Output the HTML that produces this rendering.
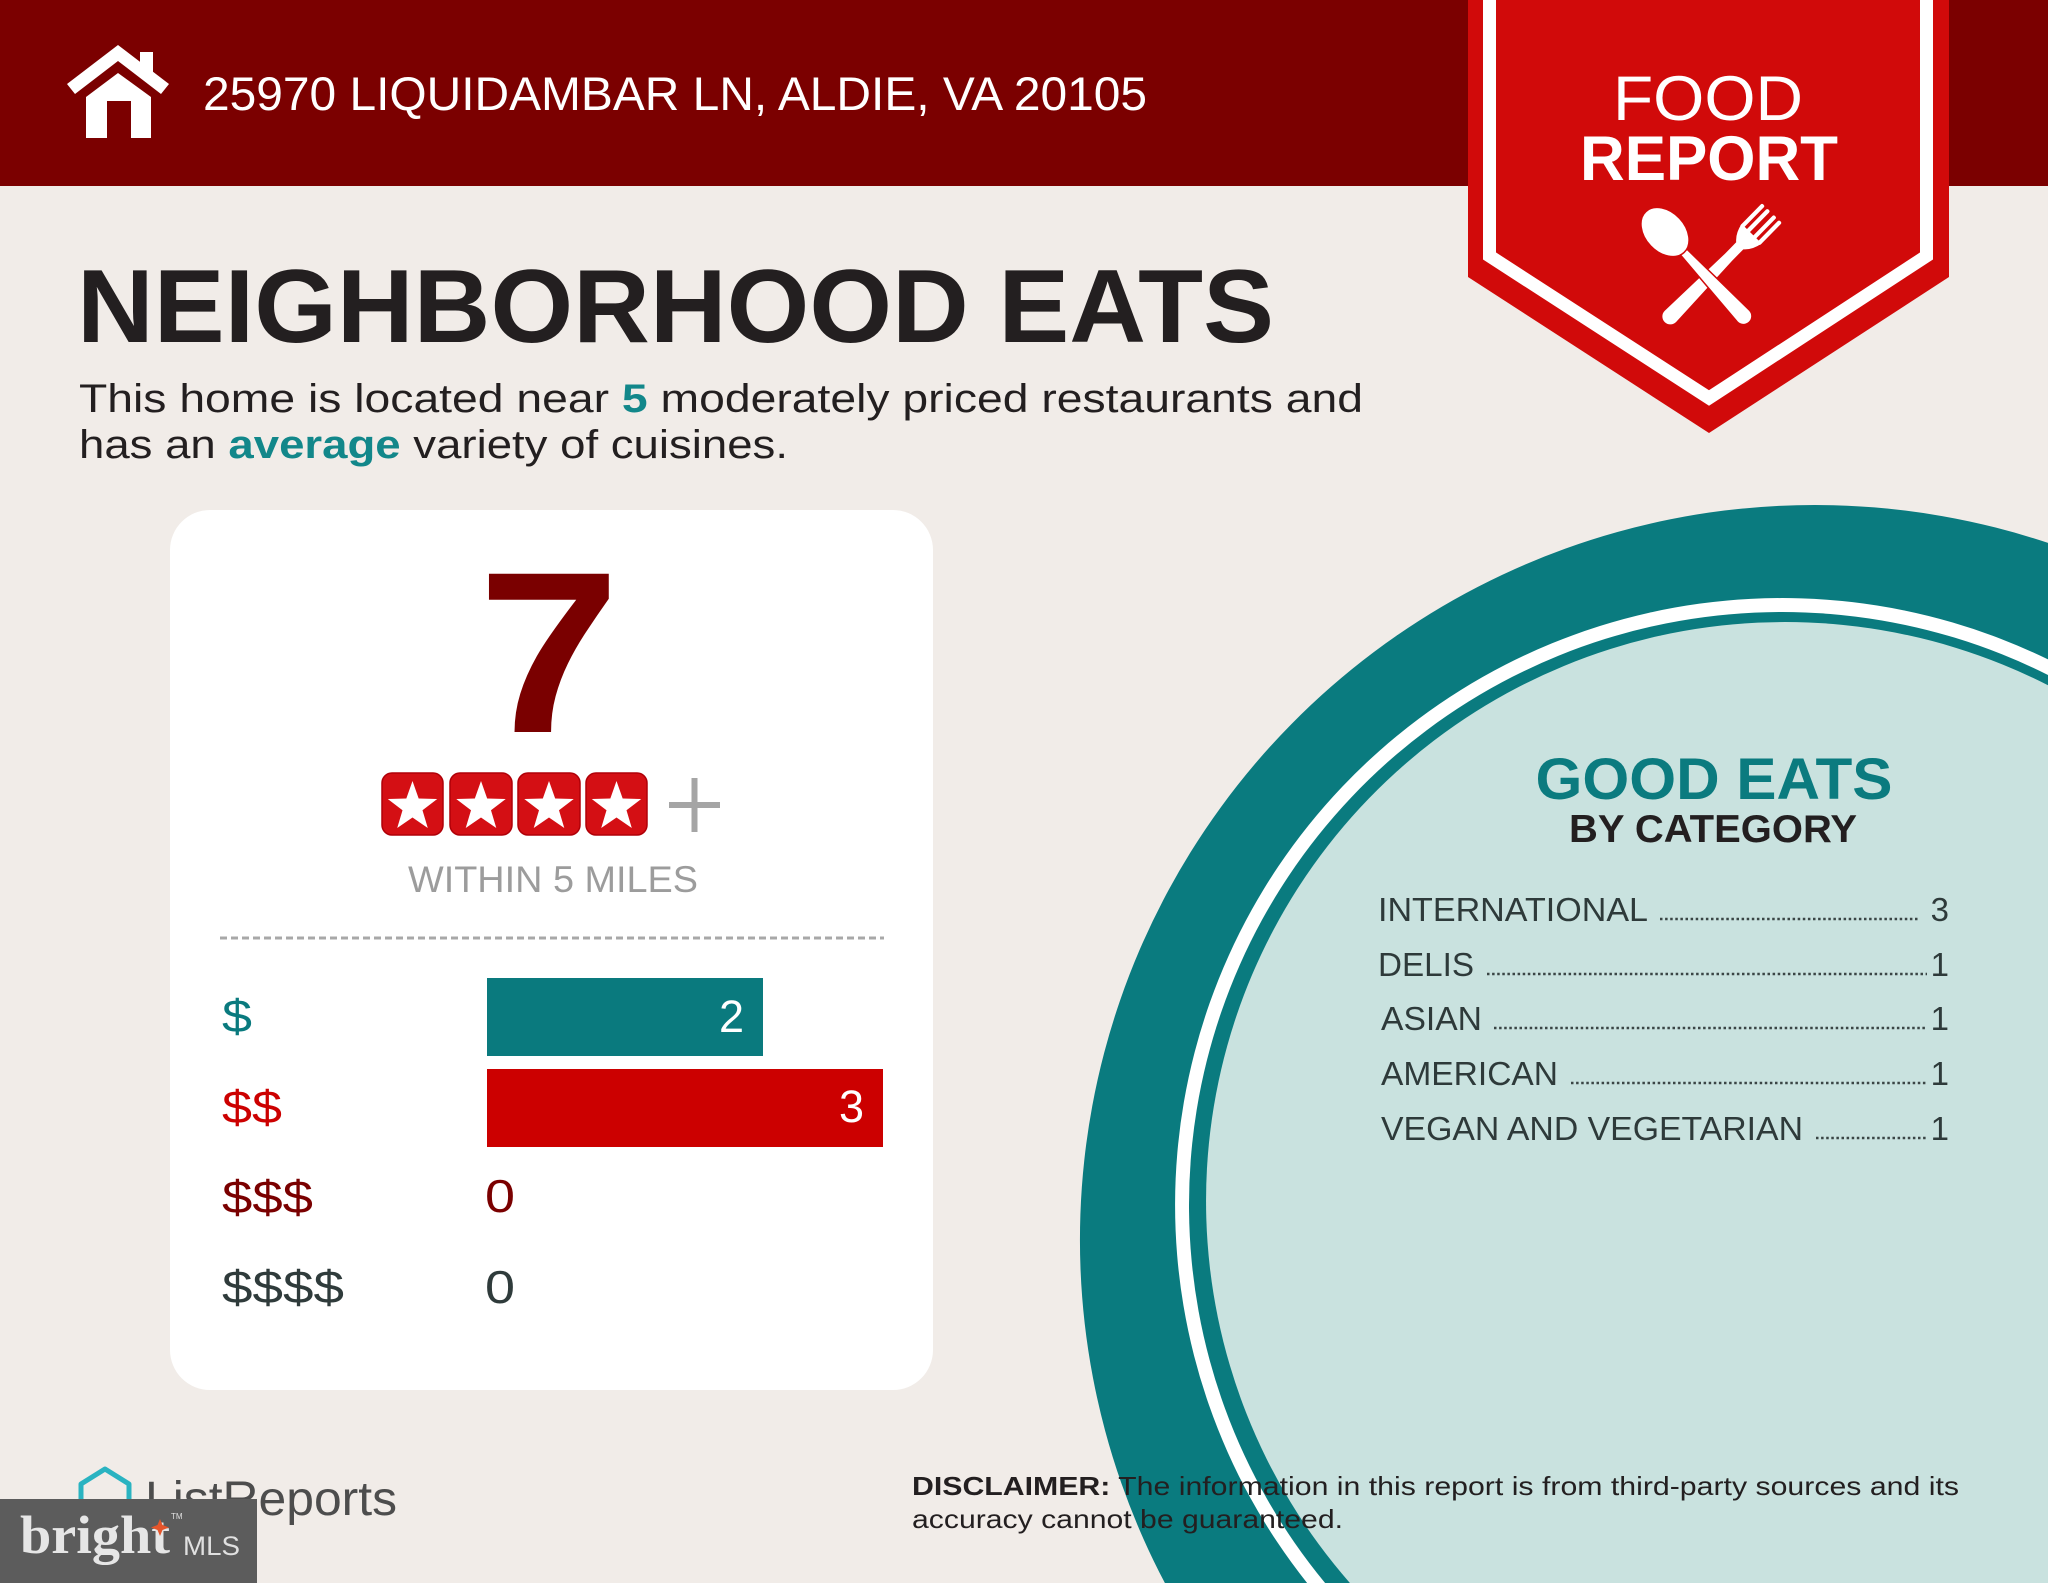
<!DOCTYPE html>
<html><head><meta charset="utf-8"><style>html,body{margin:0;padding:0;background:#f1ece8;width:2048px;height:1583px;overflow:hidden}svg{display:block}</style></head>
<body>
<svg width="2048" height="1583" viewBox="0 0 2048 1583" xmlns="http://www.w3.org/2000/svg" font-family="'Liberation Sans', sans-serif">
<rect width="2048" height="1583" fill="#f1ece8"/>
<!-- ring (pre-clipped to frame) -->
<path d="M2048,542.9 A735,735 0 0 0 1164.9,1583 L2048,1583 Z" fill="#0a7b7f"/>
<path d="M2048,659.4 A607,607 0 0 0 1307.1,1583 L2048,1583 Z" fill="#ffffff"/>
<path d="M2048,675 A593,593 0 0 0 1325.1,1583 L2048,1583 Z" fill="#0a7b7f"/>
<path d="M2048,685.2 A579,579 0 0 0 1349.9,1583 L2048,1583 Z" fill="#c9e2df"/>
<!-- header -->
<rect width="2048" height="186" fill="#7b0000"/>
<g fill="#fff">
<polygon points="118,45 169,84 161,94 118,61 75,94 67,84"/>
<rect x="140" y="52" width="13" height="20"/>
<polygon points="86,97 118,73 151,97 151,138 131,138 131,101 107,101 107,138 86,138"/>
</g>
<text x="203" y="110" font-size="47" fill="#fff" textLength="944" lengthAdjust="spacingAndGlyphs">25970 LIQUIDAMBAR LN, ALDIE, VA 20105</text>
<!-- ribbon -->
<polygon points="1468,0 1949,0 1949,277 1709,433 1468,277" fill="#d10a0a"/>
<polyline points="1489.5,0 1489.5,256 1709,398 1926.5,256 1926.5,0" fill="none" stroke="#fff" stroke-width="13"/>
<text x="1613" y="120" font-size="63" fill="#fff" textLength="190" lengthAdjust="spacingAndGlyphs">FOOD</text>
<text x="1580" y="180" font-size="63" font-weight="bold" fill="#fff" textLength="258" lengthAdjust="spacingAndGlyphs">REPORT</text>
<!-- fork -->
<g transform="translate(1772,213) rotate(134.5)" fill="#fff">
<rect x="0" y="-14" width="32" height="4.2" rx="2"/>
<rect x="0" y="-6.6" width="32" height="4.2" rx="2"/>
<rect x="0" y="2.4" width="32" height="4.2" rx="2"/>
<rect x="0" y="9.8" width="32" height="4.2" rx="2"/>
<path d="M29,-14 L29,14 Q40,12 46,5 L62,5 L145,8 A8,8 0 0 0 145,-8 L62,-5 L46,-5 Q40,-12 29,-14 Z"/>
</g>
<!-- spoon -->
<g transform="translate(1665,232) rotate(47)" fill="#fff" stroke="#d10a0a" stroke-width="1.5">
<path d="M20,-4 L115,-8.5 A8.5,8.5 0 0 1 115,8.5 L20,4 Z"/>
<ellipse cx="0" cy="0" rx="28" ry="20"/>
</g>
<!-- title -->
<text x="77" y="342" font-size="104" font-weight="bold" fill="#231f20" textLength="1197" lengthAdjust="spacingAndGlyphs">NEIGHBORHOOD EATS</text>
<text x="79" y="412" font-size="40" fill="#231f20" textLength="1284" lengthAdjust="spacingAndGlyphs">This home is located near <tspan font-weight="bold" fill="#12878a">5</tspan> moderately priced restaurants and</text>
<text x="79" y="458" font-size="40" fill="#231f20" textLength="709" lengthAdjust="spacingAndGlyphs">has an <tspan font-weight="bold" fill="#12878a">average</tspan> variety of cuisines.</text>
<!-- card -->
<rect x="170" y="510" width="763" height="880" rx="40" fill="#fff"/>
<text x="478" y="732" font-size="230" font-weight="bold" fill="#7a0000" textLength="142" lengthAdjust="spacingAndGlyphs">7</text>
<g>
<rect x="382" y="773" width="61" height="62" rx="10" fill="#d40f14" stroke="#b00008" stroke-width="1.5"/>
<rect x="450" y="773" width="62" height="62" rx="10" fill="#d40f14" stroke="#b00008" stroke-width="1.5"/>
<rect x="518" y="773" width="62" height="62" rx="10" fill="#d40f14" stroke="#b00008" stroke-width="1.5"/>
<rect x="586" y="773" width="61" height="62" rx="10" fill="#d40f14" stroke="#b00008" stroke-width="1.5"/>
<g fill="#fff">
<path transform="translate(412.5,807)" d="M0,-26 L6.17,-8.49 L24.73,-8.03 L9.99,3.24 L15.28,21.03 L0,10.5 L-15.28,21.03 L-9.99,3.24 L-24.73,-8.03 L-6.17,-8.49 Z"/>
<path transform="translate(481,807)" d="M0,-26 L6.17,-8.49 L24.73,-8.03 L9.99,3.24 L15.28,21.03 L0,10.5 L-15.28,21.03 L-9.99,3.24 L-24.73,-8.03 L-6.17,-8.49 Z"/>
<path transform="translate(549,807)" d="M0,-26 L6.17,-8.49 L24.73,-8.03 L9.99,3.24 L15.28,21.03 L0,10.5 L-15.28,21.03 L-9.99,3.24 L-24.73,-8.03 L-6.17,-8.49 Z"/>
<path transform="translate(616.5,807)" d="M0,-26 L6.17,-8.49 L24.73,-8.03 L9.99,3.24 L15.28,21.03 L0,10.5 L-15.28,21.03 L-9.99,3.24 L-24.73,-8.03 L-6.17,-8.49 Z"/>
</g>
</g>
<g stroke="#a5a5a5" stroke-width="6">
<line x1="669" y1="805" x2="720" y2="805"/>
<line x1="694.5" y1="778" x2="694.5" y2="832"/>
</g>
<text x="408" y="892" font-size="37" fill="#9c9c9c" textLength="290" lengthAdjust="spacingAndGlyphs">WITHIN 5 MILES</text>
<line x1="220" y1="938" x2="884" y2="938" stroke="#a8a8a8" stroke-width="3" stroke-dasharray="7 4"/>
<!-- bars -->
<rect x="487" y="978" width="276" height="78" fill="#0a7a7e"/>
<rect x="487" y="1069" width="396" height="78" fill="#cc0000"/>
<text x="744" y="1032" font-size="45" fill="#fff" text-anchor="end">2</text>
<text x="864" y="1122" font-size="45" fill="#fff" text-anchor="end">3</text>
<text x="222" y="1032" font-size="46" fill="#0a7a7e" textLength="30" lengthAdjust="spacingAndGlyphs">$</text>
<text x="222" y="1123" font-size="46" fill="#cc0000" textLength="60" lengthAdjust="spacingAndGlyphs">$$</text>
<text x="222" y="1213" font-size="46" fill="#7a0000" textLength="91" lengthAdjust="spacingAndGlyphs">$$$</text>
<text x="222" y="1303" font-size="46" fill="#2f3b3b" textLength="122" lengthAdjust="spacingAndGlyphs">$$$$</text>
<text x="485" y="1212" font-size="46" fill="#7a0000" textLength="30" lengthAdjust="spacingAndGlyphs">0</text>
<text x="485" y="1303" font-size="46" fill="#2f3b3b" textLength="30" lengthAdjust="spacingAndGlyphs">0</text>
<!-- right text -->
<text x="1714" y="799" font-size="58" font-weight="bold" fill="#0b7b7f" text-anchor="middle" textLength="357" lengthAdjust="spacingAndGlyphs">GOOD EATS</text>
<text x="1713" y="842" font-size="39" font-weight="bold" fill="#231f20" text-anchor="middle" textLength="288" lengthAdjust="spacingAndGlyphs">BY CATEGORY</text>
<g font-size="33" fill="#2e3a3a">
<text x="1378" y="921" textLength="270" lengthAdjust="spacingAndGlyphs">INTERNATIONAL</text>
<text x="1378" y="976" textLength="96" lengthAdjust="spacingAndGlyphs">DELIS</text>
<text x="1381" y="1030" textLength="101" lengthAdjust="spacingAndGlyphs">ASIAN</text>
<text x="1381" y="1085" textLength="177" lengthAdjust="spacingAndGlyphs">AMERICAN</text>
<text x="1381" y="1140" textLength="422" lengthAdjust="spacingAndGlyphs">VEGAN AND VEGETARIAN</text>
<text x="1949" y="921" text-anchor="end">3</text>
<text x="1949" y="976" text-anchor="end">1</text>
<text x="1949" y="1030" text-anchor="end">1</text>
<text x="1949" y="1085" text-anchor="end">1</text>
<text x="1949" y="1140" text-anchor="end">1</text>
</g>
<g stroke="#3a4545" stroke-width="2.5" stroke-dasharray="2.5 2.6">
<line x1="1660" y1="919" x2="1920" y2="919"/>
<line x1="1487" y1="974" x2="1927" y2="974"/>
<line x1="1494" y1="1028" x2="1927" y2="1028"/>
<line x1="1571" y1="1083" x2="1927" y2="1083"/>
<line x1="1816" y1="1138" x2="1927" y2="1138"/>
</g>
<!-- disclaimer -->
<text x="912" y="1495" font-size="26" fill="#231f20" textLength="1047" lengthAdjust="spacingAndGlyphs"><tspan font-weight="bold">DISCLAIMER:</tspan> The information in this report is from third-party sources and its</text>
<text x="912" y="1528" font-size="26" fill="#231f20" textLength="431" lengthAdjust="spacingAndGlyphs">accuracy cannot be guaranteed.</text>
<!-- ListReports -->
<polygon points="81,1484 105,1469 129,1484 129,1512 81,1512" fill="none" stroke="#2ab3c1" stroke-width="5" stroke-linejoin="round"/>
<text x="145" y="1515" font-size="48" fill="#4d4d4d" textLength="252" lengthAdjust="spacingAndGlyphs">ListReports</text>
<!-- bright MLS -->
<rect x="0" y="1499" width="257" height="84" fill="#5c5c5c"/>
<text x="20" y="1553" font-family="'Liberation Serif', serif" font-weight="bold" font-size="54" fill="#e6e6e6" textLength="150" lengthAdjust="spacingAndGlyphs">bright</text>
<path d="M160,1519 L162.5,1525 L169,1527.5 L162.5,1530 L160,1536 L157.5,1530 L151,1527.5 L157.5,1525 Z" fill="#e5552b"/>
<text x="171" y="1519" font-size="8" fill="#e0e0e0">TM</text>
<text x="183" y="1555" font-size="27" fill="#e0e0e0" textLength="57" lengthAdjust="spacingAndGlyphs">MLS</text>
</svg>
</body></html>
